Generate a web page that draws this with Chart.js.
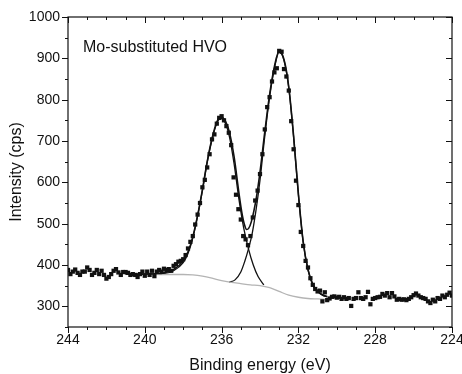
<!DOCTYPE html>
<html>
<head>
<meta charset="utf-8">
<script src="https://cdn.jsdelivr.net/npm/chart.js@4/dist/chart.umd.min.js"></script>
<style>
  html, body { margin: 0; padding: 0; background: #fff; }
  canvas { display: block; }
</style>
</head>
<body>
<canvas id="xps" width="462" height="374"></canvas>
<script>
// Binding energy (eV) of the measured points, one row per eV
const energies = [
  244, 243.875, 243.75, 243.625, 243.5, 243.375, 243.25, 243.125,
  243, 242.875, 242.75, 242.625, 242.5, 242.375, 242.25, 242.125,
  242, 241.875, 241.75, 241.625, 241.5, 241.375, 241.25, 241.125,
  241, 240.875, 240.75, 240.625, 240.5, 240.375, 240.25, 240.125,
  240, 239.875, 239.75, 239.625, 239.5, 239.375, 239.25, 239.125,
  239, 238.875, 238.75, 238.625, 238.5, 238.375, 238.25, 238.125,
  238, 237.875, 237.75, 237.625, 237.5, 237.375, 237.25, 237.125,
  237, 236.875, 236.75, 236.625, 236.5, 236.375, 236.25, 236.125,
  236, 235.875, 235.75, 235.625, 235.5, 235.375, 235.25, 235.125,
  235, 234.875, 234.75, 234.625, 234.5, 234.375, 234.25, 234.125,
  234, 233.875, 233.75, 233.625, 233.5, 233.375, 233.25, 233.125,
  233, 232.875, 232.75, 232.625, 232.5, 232.375, 232.25, 232.125,
  232, 231.875, 231.75, 231.625, 231.5, 231.375, 231.25, 231.125,
  231, 230.875, 230.75, 230.625, 230.5, 230.375, 230.25, 230.125,
  230, 229.875, 229.75, 229.625, 229.5, 229.375, 229.25, 229.125,
  229, 228.875, 228.75, 228.625, 228.5, 228.375, 228.25, 228.125,
  228, 227.875, 227.75, 227.625, 227.5, 227.375, 227.25, 227.125,
  227, 226.875, 226.75, 226.625, 226.5, 226.375, 226.25, 226.125,
  226, 225.875, 225.75, 225.625, 225.5, 225.375, 225.25, 225.125,
  225, 224.875, 224.75, 224.625, 224.5, 224.375, 224.25, 224.125,
  224
];

// Intensity (cps) of the measured points
const counts = [
  388, 378, 384, 389, 381, 376, 384, 384,
  394, 388, 376, 381, 388, 378, 386, 376,
  367, 371, 378, 386, 390, 382, 376, 383,
  383, 381, 376, 378, 376, 371, 378, 384,
  374, 384, 376, 386, 373, 384, 388, 384,
  391, 388, 390, 386, 398, 402, 408, 410,
  414, 424, 440, 456, 470, 498, 522, 550,
  588, 606, 636, 668, 704, 716, 742, 756,
  760, 750, 736, 720, 690, 612, 570, 535,
  510, 470, 462, 448, 470, 515, 556, 580,
  620, 668, 728, 782, 806, 844, 866, 876,
  918, 916, 874, 856, 822, 748, 680, 604,
  545, 480, 446, 410, 394, 368, 352, 342,
  336, 338, 312, 334, 315, 319, 323, 324,
  321, 323, 318, 322, 318, 320, 301, 318,
  320, 334, 320, 318, 322, 335, 305, 318,
  320, 322, 323, 330, 326, 332, 322, 332,
  324, 316, 318, 316, 317, 315, 318, 322,
  327, 331, 326, 322, 320, 318, 312, 308,
  316, 312, 320, 318, 326, 322, 328, 333,
  326
];

// fitted envelope
const envelopeE = [241, 240, 239.5, 239, 238.5, 238, 237.75, 237.5, 237.25, 237, 236.75, 236.5, 236.25, 236.05, 235.85, 235.6, 235.35, 235.1, 234.95, 234.8, 234.7, 234.6, 234.45, 234.2, 234, 233.75, 233.5, 233.25, 233, 232.75, 232.5, 232.25, 232, 231.75, 231.5, 231.25, 231, 230.75, 230.5];
const envelopeI = [378, 378, 379, 381, 389, 410, 432, 468, 520, 582, 650, 706, 746, 758, 752, 722, 662, 575, 528, 496, 486, 488, 505, 560, 625, 722, 812, 880, 918, 897, 830, 712, 572, 456, 389, 353, 337, 328, 324];

// first component (236 eV)
const peak1E = [241, 239.5, 239, 238.5, 238, 237.75, 237.5, 237.25, 237, 236.75, 236.5, 236.25, 236.05, 235.85, 235.6, 235.35, 235.1, 234.85, 234.6, 234.35, 234.1, 233.8];
const peak1I = [378, 378, 379, 386, 406, 428, 465, 518, 580, 648, 703, 743, 755, 747, 712, 645, 560, 490, 439, 400, 372, 352];

// second component (233 eV)
const peak2E = [235.6, 235.3, 235, 234.8, 234.6, 234.4, 234.2, 234, 233.75, 233.5, 233.25, 233, 232.75, 232.5, 232.25, 232, 231.75, 231.5, 231.25, 231, 230.75, 230.5];
const peak2I = [358, 364, 383, 408, 439, 478, 535, 605, 712, 806, 876, 915, 895, 828, 710, 570, 455, 388, 352, 336, 327, 323];

// background
const bgE = [241, 240, 239, 238, 237.5, 237, 236.5, 236, 235.5, 235, 234.5, 234, 233.5, 233, 232.5, 232, 231.5, 231, 230.5];
const bgI = [378, 378, 377, 377, 376, 373, 368, 362, 358, 355, 352, 350, 345, 336, 327, 322, 319, 318, 317];

const xTickValues = [244, 240, 236, 232, 228, 224];
const yTickValues = [300, 400, 500, 600, 700, 800, 900, 1000];

const FONT = '"Liberation Sans", Arial, Helvetica, sans-serif';

const pairs = (xs, ys) => xs.map((x, i) => ({ x: x, y: ys[i] }));

function curve(xs, ys, color, width, order) {
  return {
    data: pairs(xs, ys),
    showLine: true,
    borderColor: color,
    borderWidth: width,
    pointRadius: 0,
    cubicInterpolationMode: 'monotone',
    order: order,
  };
}

// frame with ticks on all four sides, plus the sample label
const frameTicks = {
  id: 'frameTicks',
  afterDatasetsDraw(chart) {
    const { ctx, chartArea: a, scales } = chart;
    const x = scales.x, y = scales.y;
    ctx.save();
    ctx.strokeStyle = '#111';
    ctx.lineWidth = 1.2;
    ctx.strokeRect(a.left, a.top, a.right - a.left, a.bottom - a.top);
    ctx.lineWidth = 1;
    ctx.beginPath();
    for (let e = 224; e <= 244; e++) {
      const px = Math.round(x.getPixelForValue(e)) + 0.5;
      const len = e % 4 === 0 ? 6 : 3;
      ctx.moveTo(px, a.bottom); ctx.lineTo(px, a.bottom + len);
      ctx.moveTo(px, a.top); ctx.lineTo(px, a.top + len);
    }
    for (let v = 250; v <= 1000; v += 50) {
      const py = Math.round(y.getPixelForValue(v)) + 0.5;
      const len = v % 100 === 0 ? 6 : 3;
      ctx.moveTo(a.left, py); ctx.lineTo(a.left - len, py);
      ctx.moveTo(a.right, py); ctx.lineTo(a.right - len, py);
    }
    ctx.stroke();

    ctx.fillStyle = '#111';
    ctx.font = '16px ' + FONT;
    ctx.textBaseline = 'alphabetic';
    ctx.fillText('Mo-substituted HVO', a.left + 15, a.top + 34.5);
    ctx.restore();
  }
};

new Chart(document.getElementById('xps').getContext('2d'), {
  type: 'scatter',
  data: {
    datasets: [
      {
        data: pairs(energies, counts),
        pointStyle: 'rect',
        pointRadius: 3,
        pointBackgroundColor: '#111',
        pointBorderWidth: 0,
        showLine: false,
        order: 0,
      },
      curve(envelopeE, envelopeI, '#111', 1.6, 1),
      curve(bgE, bgI, '#b4b4b4', 1.3, 2),
      curve(peak1E, peak1I, '#111', 1.3, 3),
      curve(peak2E, peak2I, '#111', 1.3, 4),
    ],
  },
  options: {
    responsive: false,
    animation: false,
    devicePixelRatio: 1,
    layout: { padding: { left: 0, right: 10, top: 17, bottom: 0 } },
    plugins: { legend: { display: false }, tooltip: { enabled: false } },
    scales: {
      x: {
        type: 'linear',
        min: 224,
        max: 244,
        reverse: true,
        grid: { display: false, drawTicks: false },
        border: { display: false },
        afterBuildTicks: s => { s.ticks = xTickValues.map(v => ({ value: v })); },
        afterFit: s => { s.height = 47; s.paddingLeft = 0; s.paddingRight = 0; },
        ticks: {
          padding: 5,
          color: '#111',
          font: { family: FONT, size: 14 },
          maxRotation: 0,
          callback: v => String(v),
        },
        title: {
          display: true,
          text: 'Binding energy (eV)',
          color: '#111',
          font: { family: FONT, size: 16, lineHeight: 1 },
          padding: { top: 0, bottom: 0 },
        },
      },
      y: {
        min: 250,
        max: 1000,
        grid: { display: false, drawTicks: false },
        border: { display: false },
        afterBuildTicks: s => { s.ticks = yTickValues.map(v => ({ value: v })); },
        afterFit: s => { s.width = 68; s.paddingTop = 0; s.paddingBottom = 0; },
        ticks: {
          padding: 8,
          color: '#111',
          font: { family: FONT, size: 14 },
          callback: v => String(v),
        },
        title: {
          display: true,
          text: 'Intensity (cps)',
          color: '#111',
          font: { family: FONT, size: 16, lineHeight: 1 },
          padding: { top: 9, bottom: 0 },
        },
      },
    },
  },
  plugins: [frameTicks],
});
</script>
</body>
</html>
